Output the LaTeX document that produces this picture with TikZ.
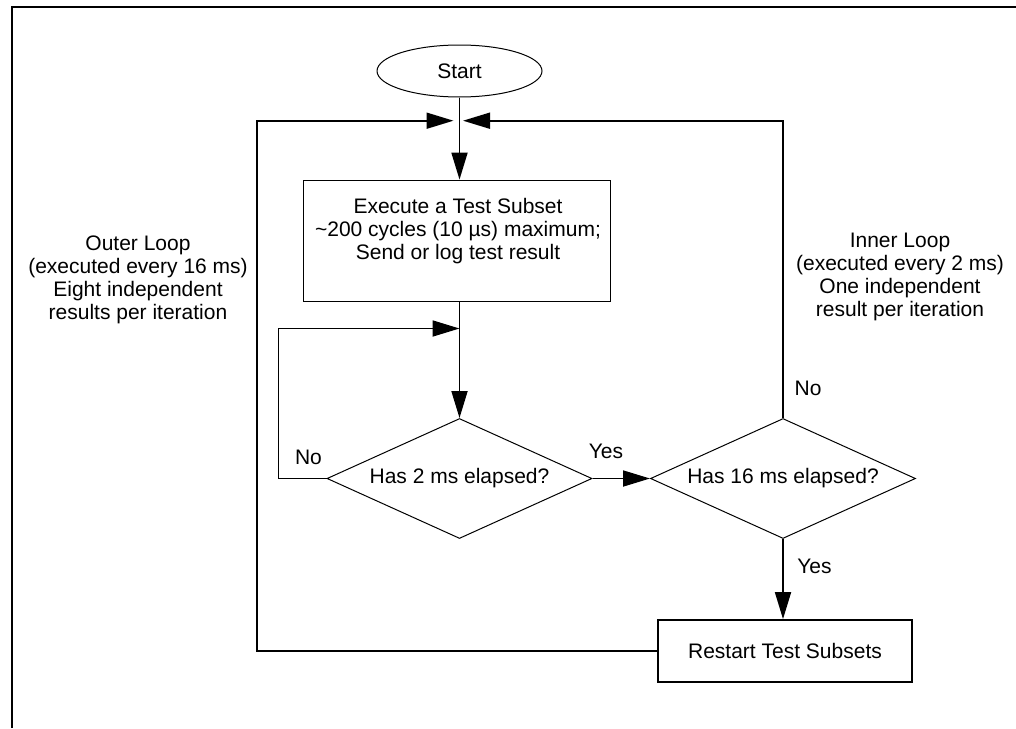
\documentclass[tikz,border=0pt]{standalone}
\usepackage{fontspec}
\setmainfont{Liberation Sans}
\usetikzlibrary{shapes.geometric,arrows.meta}
\begin{document}
\begin{tikzpicture}[x=1pt,y=-1pt,
  txt/.style={font=\fontsize{21}{23}\selectfont, align=center, inner sep=0pt},
  boxnode/.style={draw, line width=1.8pt, inner sep=0pt},
  decision/.style={draw, diamond, line width=1pt, inner sep=0pt, aspect=2.2,
    minimum width=265pt, minimum height=120pt, font=\fontsize{21}{23}\selectfont},
  startnode/.style={draw, ellipse, line width=1pt, inner sep=0pt,
    minimum width=165pt, minimum height=52pt, font=\fontsize{21}{23}\selectfont},
  conn/.style={line width=1.8pt},
  arr/.style={conn, -{Triangle[length=27pt,width=16pt]}}
]
\useasboundingbox (0,0) rectangle (1016,728);
% frame (top and left only)
\draw[line width=2pt] (12,728) -- (12,7) -- (1016,7);

\node[startnode] (start) at (459.5,71) {Start};
\node[boxnode, minimum width=307pt, minimum height=121pt] (exec) at (457,241) {};
\node[txt] (exectext) at (458,231.5) {Execute a Test Subset\\\textasciitilde200 cycles (10 µs) maximum;\\Send or log test result};
\node[decision] (d1) at (459.5,478.5) {Has 2 ms elapsed?};
\node[decision] (d2) at (783,478.5) {Has 16 ms elapsed?};
\node[boxnode, minimum width=254pt, minimum height=62pt, font=\fontsize{21}{23}\selectfont] (restart) at (785,651) {Restart Test Subsets};

\node[txt] (outer) at (138,280) {Outer Loop\\(executed every 16 ms)\\Eight independent\\results per iteration};
\node[txt] (inner) at (900,277) {Inner Loop\\(executed every 2 ms)\\One independent\\result per iteration};

\node[txt] (no1) at (308.5,457) {No};
\node[txt] (yes1) at (606,451) {Yes};
\node[txt] (no2) at (808,388) {No};
\node[txt] (yes2) at (814.5,566) {Yes};

\coordinate (j) at (459.5,120.7);
\coordinate (j2) at (459.5,328.5);
\coordinate (outerX) at (257,0);
\coordinate (loopX) at (278.5,0);

\draw[conn] (start.south) -- (j);
\draw[arr] (j) -- (j |- exec.north);
\draw[arr, shorten >=6pt] (restart.west) -- (restart.west -| outerX) |- (j);
\draw[arr, shorten >=3.5pt] (d2.north) |- (j);
\draw[conn] (exec.south -| d1.north) -- (j2);
\draw[arr] (j2) -- (d1.north);
\draw[arr] (d1.west) -- (d1.west -| loopX) |- (j2);
\draw[arr] (d1.east) -- (d2.west);
\draw[arr] (d2.south) -- (d2.south |- restart.north);
\end{tikzpicture}
\end{document}
